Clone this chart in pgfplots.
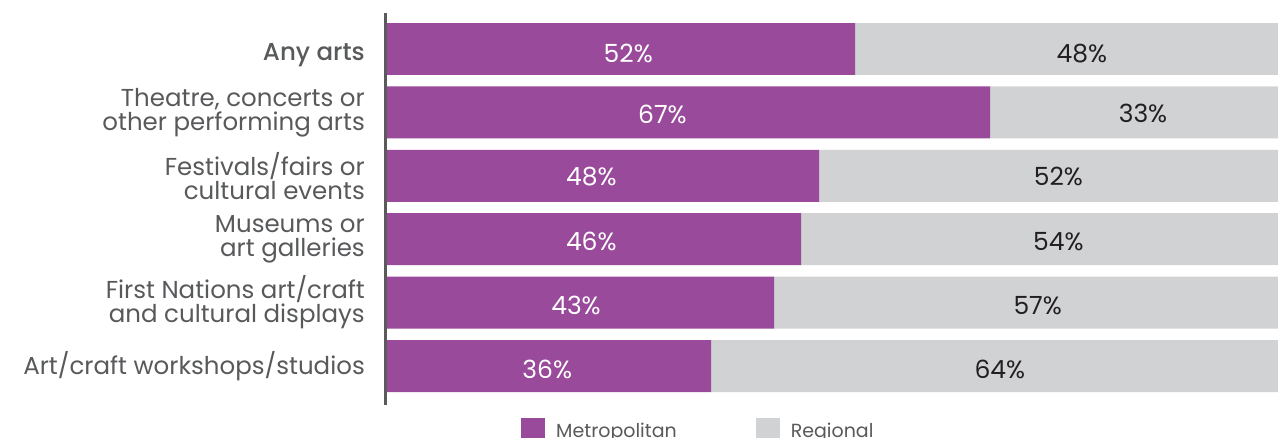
\documentclass[border=0pt]{standalone}
\usepackage{fontspec}
\setmainfont{Poppins}[BoldFont={Poppins Medium}]
\usepackage{pgfplots}
\pgfplotsset{compat=1.18}
\definecolor{metro}{HTML}{994A9A}
\definecolor{regio}{HTML}{D1D2D4}
\definecolor{labgrey}{HTML}{58595B}
\definecolor{axgrey}{HTML}{5A5A5A}
\definecolor{numblack}{HTML}{231F20}
\begin{document}
\begin{tikzpicture}[x=1pt,y=1pt]
\begin{axis}[
  at={(387pt,33pt)}, anchor=south west,
  scale only axis, width=891pt, height=392pt,
  xbar stacked, bar width=0.82,
  xmin=0, xmax=99, ymin=-0.568, ymax=5.615, y dir=reverse,
  clip=false,
  hide x axis,
  y axis line style={draw=none},
  ytick={0,1,2,3,4,5},
  yticklabels={{\raisebox{-6pt}[\height][\depth]{\bfseries Any arts}},{Theatre, concerts or\\other performing arts},{Festivals/fairs or\\cultural events},{Museums or\\art galleries},{First Nations art/craft\\and cultural displays},{Art/craft workshops/studios}},
  yticklabel style={align=right, font=\fontsize{24.5}{24}\selectfont, text=labgrey, inner sep=0pt, xshift=-22pt},
  major tick length=0pt,
  ytick style={draw=none},
  legend style={at={(axis description cs:0.1504,-0.0638)}, anchor=west, draw=none, fill=none, inner sep=0pt, legend columns=2, font=\fontsize{19}{19}\selectfont, text=labgrey, cells={anchor=base west}, /tikz/every odd column/.append style={column sep=9pt}, /tikz/every even column/.append style={column sep=77pt}},
]
\addplot[fill=metro, draw=none, legend image code/.code={\fill[metro] (0pt,-5pt) rectangle (24pt,19pt);}] coordinates {(52,0) (67,1) (48,2) (46,3) (43,4) (36,5)};
\addlegendentry{Metropolitan}
\addplot[fill=regio, draw=none, legend image code/.code={\fill[regio] (0pt,-5pt) rectangle (24pt,19pt);}] coordinates {(48,0) (33,1) (52,2) (54,3) (57,4) (64,5)};
\addlegendentry{Regional}
\draw[axgrey, line width=3pt] ([xshift=-1.5pt]rel axis cs:0,0) -- ([xshift=-1.5pt]rel axis cs:0,1);
\end{axis}
\begin{axis}[
  at={(387pt,33pt)}, anchor=south west,
  scale only axis, width=891pt, height=392pt,
  xmin=0, xmax=99, ymin=-0.568, ymax=5.615, y dir=reverse,
  hide axis, clip=false,
]
\addplot[only marks, mark=none, draw=none, nodes near coords, point meta=explicit symbolic,
  every node near coord/.style={anchor=center, inner sep=0pt, text=white, font=\fontsize{25}{25}\selectfont}]
  coordinates {(26.8,0.07) [52\%] (30.6,1.024) [67\%] (22.7,2.016) [48\%] (22.7,3.03) [46\%] (21.0,4.04) [43\%] (17.8,5.055) [36\%]};
\addplot[only marks, mark=none, draw=none, nodes near coords, point meta=explicit symbolic,
  every node near coord/.style={anchor=center, inner sep=0pt, text=numblack, font=\fontsize{25}{25}\selectfont}]
  coordinates {(77.2,0.07) [48\%] (84.0,1.024) [33\%] (74.6,2.016) [52\%] (74.6,3.03) [54\%] (72.3,4.04) [57\%] (68.1,5.055) [64\%]};
\end{axis}
\pgfresetboundingbox
\useasboundingbox (0,0) rectangle (1278,438);
\end{tikzpicture}
\end{document}
